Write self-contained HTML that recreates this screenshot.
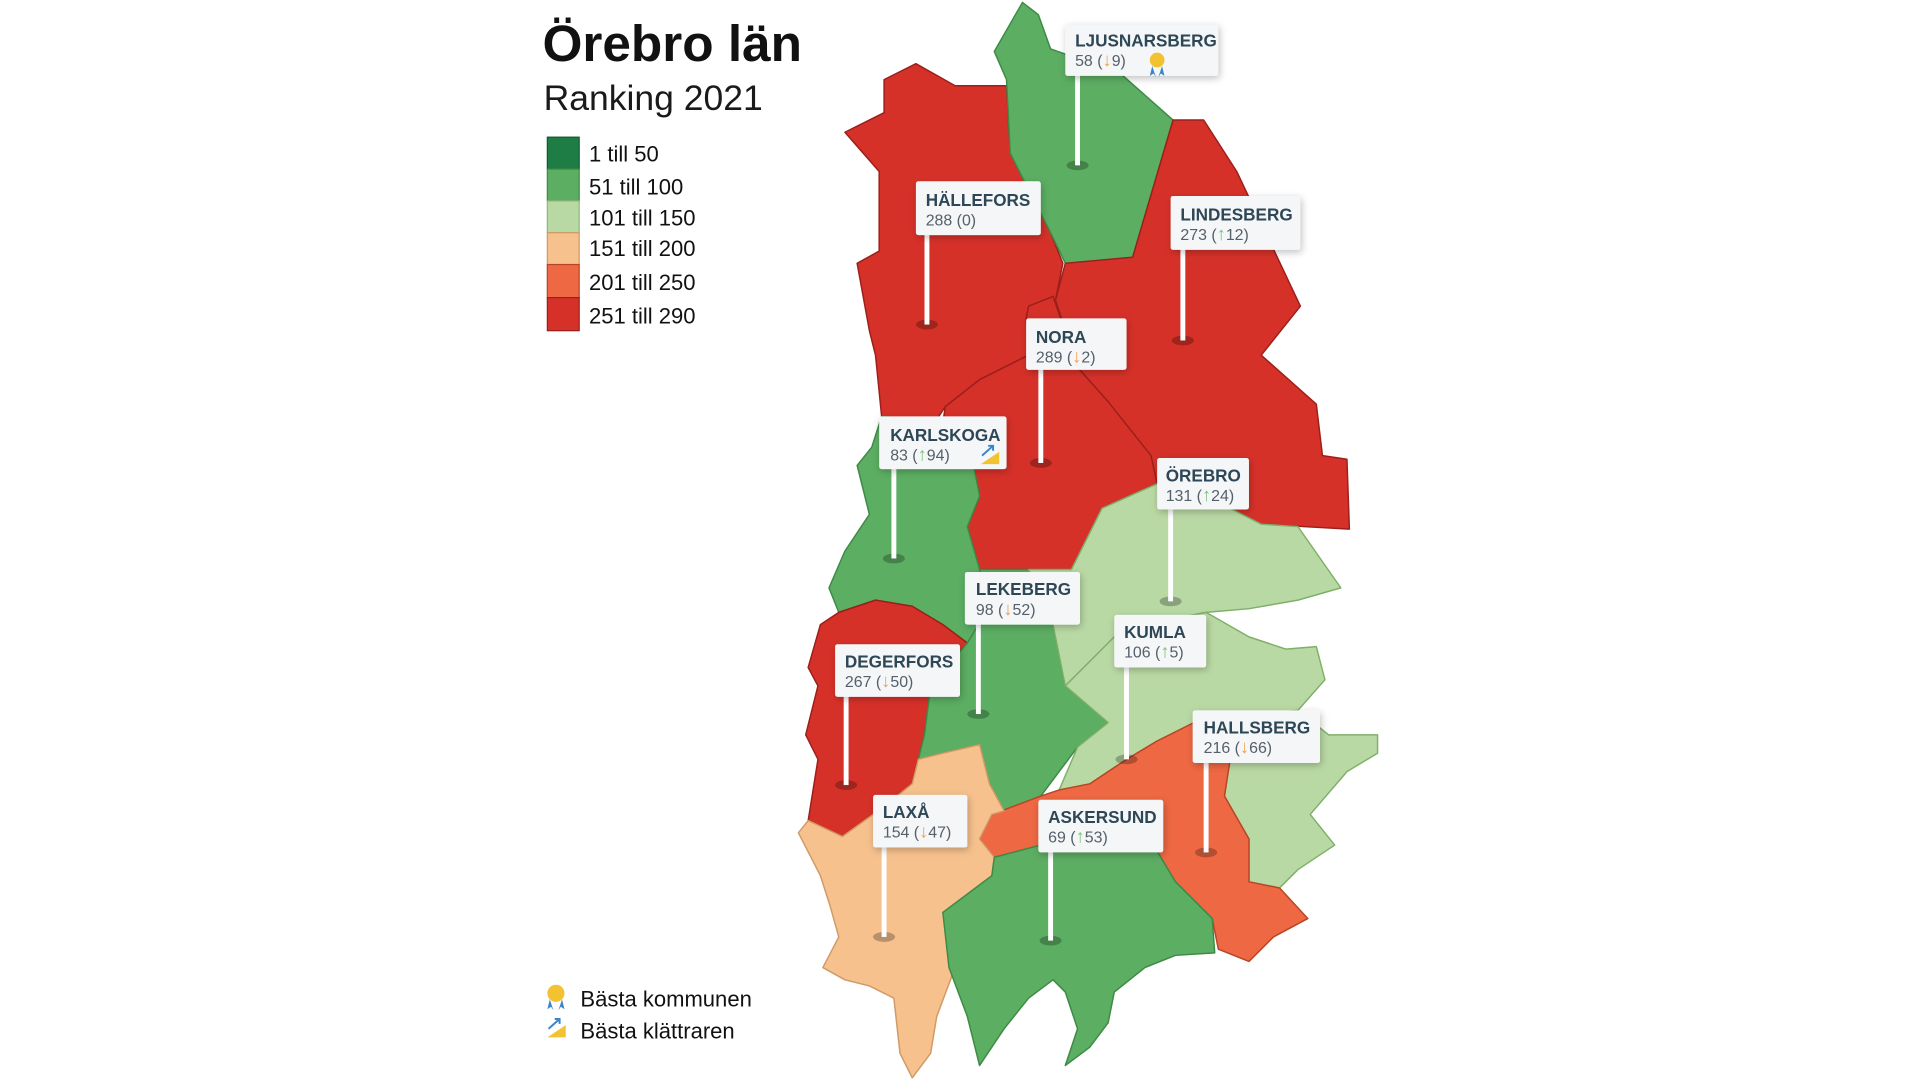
<!DOCTYPE html>
<html><head><meta charset="utf-8"><style>
html,body{margin:0;padding:0;background:#fff;}
svg{display:block;}
text{font-family:"Liberation Sans",sans-serif;}
.n{font-weight:bold;fill:#2e4756;font-size:14px;}
.v{fill:#55606a;font-size:13px;}
.up{fill:#7cc27a;font-size:15px;font-weight:bold;}
.dn{fill:#f0a050;font-size:15px;font-weight:bold;}
</style></head><body>
<svg width="1920" height="1079" viewBox="0 0 1568 881" preserveAspectRatio="none" xmlns="http://www.w3.org/2000/svg">
<defs>
<filter id="sh" x="-20%" y="-20%" width="140%" height="150%"><feDropShadow dx="1" dy="2" stdDeviation="3" flood-color="#000" flood-opacity="0.25"/></filter>
</defs>
<rect width="1568" height="881" fill="#fff"/>
<g stroke-linejoin="round" stroke-width="1.2">
<polygon fill="#d63129" stroke="#9b1f1a" points="690,108 722,92 722,65 748,52 780,70 822,70 825,125 858,190 868,215 862,245 838,260 840,290 800,310 772,332 760,350 720,340 715,290 710,270 700,215 718,205 718,140"/>
<polygon fill="#5cae63" stroke="#3d8a45" points="835,2 848,12 858,40 915,60 958,98 925,210 870,215 858,190 840,155 825,125 822,65 812,42"/>
<polygon fill="#d63129" stroke="#9b1f1a" points="958,98 983,98 1010,140 1062,250 1030,290 1075,330 1080,372 1100,375 1102,432 1030,428 985,405 945,395 905,328 880,300 862,245 870,215 925,210"/>
<polygon fill="#d63129" stroke="#9b1f1a" points="840,250 860,242 880,300 905,328 940,372 945,395 900,415 875,465 800,465 790,430 800,405 795,380 770,345 772,332 800,310 840,290 838,260"/>
<polygon fill="#5cae63" stroke="#3d8a45" points="720,340 770,345 795,380 800,405 790,430 800,465 805,500 790,525 770,510 745,495 715,490 685,500 677,480 690,450 710,420 700,380 712,365"/>
<polygon fill="#d63129" stroke="#9b1f1a" points="685,500 715,490 745,495 770,510 790,525 760,560 755,600 745,640 720,660 688,683 660,670 668,620 658,600 668,560 660,545 670,510"/>
<polygon fill="#5cae63" stroke="#3d8a45" points="790,525 805,500 800,465 840,465 860,510 870,560 905,590 880,610 865,630 850,650 820,662 808,640 800,608 770,615 750,620 755,600 760,560"/>
<polygon fill="#b9d9a4" stroke="#7fb06a" points="945,395 985,405 1030,428 1060,430 1095,480 1060,490 1020,497 985,500 960,505 940,510 910,520 890,540 870,560 860,510 840,465 875,465 900,415"/>
<polygon fill="#b9d9a4" stroke="#7fb06a" points="870,560 890,540 910,520 960,505 985,500 1020,520 1050,530 1075,528 1082,555 1060,580 1010,585 975,590 945,605 920,620 890,640 865,645 880,610 905,590"/>
<polygon fill="#b9d9a4" stroke="#7fb06a" points="1010,585 1060,580 1085,600 1125,600 1125,615 1100,630 1070,665 1090,690 1060,710 1045,725 1020,720 1020,685 1000,650"/>
<polygon fill="#ee6843" stroke="#b84526" points="810,665 850,650 865,645 890,640 920,620 945,605 975,590 1010,585 1000,650 1020,685 1020,720 1045,725 1068,750 1040,765 1020,785 995,775 990,750 960,720 945,695 900,695 850,690 812,700 800,685"/>
<polygon fill="#f6c18d" stroke="#d09a66" points="720,660 745,640 750,620 770,615 800,608 808,640 820,662 810,665 800,685 812,700 810,715 790,730 770,745 780,790 765,830 760,860 745,880 735,860 730,815 710,805 690,800 672,790 685,765 678,740 670,715 652,680 660,670 688,683"/>
<polygon fill="#5cae63" stroke="#3d8a45" points="812,700 850,690 900,695 945,695 960,720 990,750 992,778 960,780 935,790 910,810 905,835 890,855 870,870 880,840 870,810 860,800 840,815 820,840 800,870 790,830 775,790 770,745 790,730 810,715"/>
</g>
<g id="pins" fill="#fff">
<g><ellipse cx="880" cy="135" rx="9" ry="4" fill="rgba(0,0,0,0.25)"/><rect x="878" y="60" width="4" height="75"/></g>
<g><ellipse cx="757" cy="265" rx="9" ry="4" fill="rgba(0,0,0,0.25)"/><rect x="755" y="190" width="4" height="75"/></g>
<g><ellipse cx="966" cy="278" rx="9" ry="4" fill="rgba(0,0,0,0.25)"/><rect x="964" y="202" width="4" height="76"/></g>
<g><ellipse cx="850" cy="378" rx="9" ry="4" fill="rgba(0,0,0,0.25)"/><rect x="848" y="300" width="4" height="78"/></g>
<g><ellipse cx="730" cy="456" rx="9" ry="4" fill="rgba(0,0,0,0.25)"/><rect x="728" y="381" width="4" height="75"/></g>
<g><ellipse cx="956" cy="491" rx="9" ry="4" fill="rgba(0,0,0,0.25)"/><rect x="954" y="414" width="4" height="77"/></g>
<g><ellipse cx="799" cy="583" rx="9" ry="4" fill="rgba(0,0,0,0.25)"/><rect x="797" y="508" width="4" height="75"/></g>
<g><ellipse cx="920" cy="620" rx="9" ry="4" fill="rgba(0,0,0,0.25)"/><rect x="918" y="543" width="4" height="77"/></g>
<g><ellipse cx="691" cy="641" rx="9" ry="4" fill="rgba(0,0,0,0.25)"/><rect x="689" y="567" width="4" height="74"/></g>
<g><ellipse cx="985" cy="696" rx="9" ry="4" fill="rgba(0,0,0,0.25)"/><rect x="983" y="621" width="4" height="75"/></g>
<g><ellipse cx="722" cy="765" rx="9" ry="4" fill="rgba(0,0,0,0.25)"/><rect x="720" y="690" width="4" height="75"/></g>
<g><ellipse cx="858" cy="768" rx="9" ry="4" fill="rgba(0,0,0,0.25)"/><rect x="856" y="694" width="4" height="74"/></g>
</g>
<g filter="url(#sh)" fill="#f4f6f7">
<rect x="870" y="20" width="125" height="42" rx="2"/>
<rect x="748" y="148" width="102" height="44" rx="2"/>
<rect x="956" y="160" width="106" height="44" rx="2"/>
<rect x="838" y="260" width="82" height="42" rx="2"/>
<rect x="718" y="340" width="104" height="43" rx="2"/>
<rect x="945" y="374" width="75" height="42" rx="2"/>
<rect x="788" y="467" width="94" height="43" rx="2"/>
<rect x="910" y="502" width="75" height="43" rx="2"/>
<rect x="682" y="526" width="102" height="43" rx="2"/>
<rect x="974" y="580" width="104" height="43" rx="2"/>
<rect x="713" y="649" width="77" height="43" rx="2"/>
<rect x="848" y="653" width="102" height="43" rx="2"/>
</g>
<g>
<text x="878" y="38" class="n">LJUSNARSBERG</text><text x="878" y="54" class="v">58 (<tspan class="dn">↓</tspan>9)</text>
<circle cx="945" cy="49" r="6" fill="#f2c230"/><path d="M941,54 l-2,8 l3,-2 l2,3 z M949,54 l2,8 l-3,-2 l-2,3 z" fill="#3a86c8"/>
<text x="756" y="168" class="n">HÄLLEFORS</text><text x="756" y="184" class="v">288 (0)</text>
<text x="964" y="180" class="n">LINDESBERG</text><text x="964" y="196" class="v">273 (<tspan class="up">↑</tspan>12)</text>
<text x="846" y="280" class="n">NORA</text><text x="846" y="296" class="v">289 (<tspan class="dn">↓</tspan>2)</text>
<text x="727" y="360" class="n">KARLSKOGA</text><text x="727" y="376" class="v">83 (<tspan class="up">↑</tspan>94)</text>
<path d="M801,379 h15 v-10 z" fill="#f2c230"/><path d="M802,372 l9,-8 M807,364 h4 v4" stroke="#3a86c8" stroke-width="1.6" fill="none"/>
<text x="952" y="393" class="n">ÖREBRO</text><text x="952" y="409" class="v">131 (<tspan class="up">↑</tspan>24)</text>
<text x="797" y="486" class="n">LEKEBERG</text><text x="797" y="502" class="v">98 (<tspan class="dn">↓</tspan>52)</text>
<text x="918" y="521" class="n">KUMLA</text><text x="918" y="537" class="v">106 (<tspan class="up">↑</tspan>5)</text>
<text x="690" y="545" class="n">DEGERFORS</text><text x="690" y="561" class="v">267 (<tspan class="dn">↓</tspan>50)</text>
<text x="983" y="599" class="n">HALLSBERG</text><text x="983" y="615" class="v">216 (<tspan class="dn">↓</tspan>66)</text>
<text x="721" y="668" class="n">LAXÅ</text><text x="721" y="684" class="v">154 (<tspan class="dn">↓</tspan>47)</text>
<text x="856" y="672" class="n">ASKERSUND</text><text x="856" y="688" class="v">69 (<tspan class="up">↑</tspan>53)</text>
</g>
<text x="443" y="50" font-size="42" font-weight="bold" fill="#111" textLength="212" lengthAdjust="spacingAndGlyphs">Örebro län</text>
<text x="444" y="90" font-size="29" fill="#1a1a1a">Ranking 2021</text>
<g stroke-width="1">
<rect x="447" y="112" width="26" height="26" fill="#1e7c45" stroke="#145a30"/>
<rect x="447" y="138" width="26" height="26" fill="#5cae63" stroke="#3d8a45"/>
<rect x="447" y="164" width="26" height="26" fill="#b9d9a4" stroke="#8fb87a"/>
<rect x="447" y="190" width="26" height="26" fill="#f6c18d" stroke="#d09a66"/>
<rect x="447" y="216" width="26" height="27" fill="#ee6843" stroke="#b84526"/>
<rect x="447" y="243" width="26" height="27" fill="#d63129" stroke="#9b1f1a"/>
</g>
<g font-size="18" fill="#111">
<text x="481" y="132">1 till 50</text>
<text x="481" y="159">51 till 100</text>
<text x="481" y="184">101 till 150</text>
<text x="481" y="209">151 till 200</text>
<text x="481" y="237">201 till 250</text>
<text x="481" y="264">251 till 290</text>
<text x="474" y="822">Bästa kommunen</text>
<text x="474" y="848">Bästa klättraren</text>
</g>
<circle cx="454" cy="811" r="7" fill="#f2c230"/><path d="M449,816 l-2,8 l3,-2 l2,3 z M459,816 l2,8 l-3,-2 l-2,3 z" fill="#3a86c8"/>
<path d="M447,847 h15 v-10 z" fill="#f2c230"/><path d="M448,840 l9,-8 M453,832 h4 v4" stroke="#3a86c8" stroke-width="1.6" fill="none"/>
</svg>
</body></html>
